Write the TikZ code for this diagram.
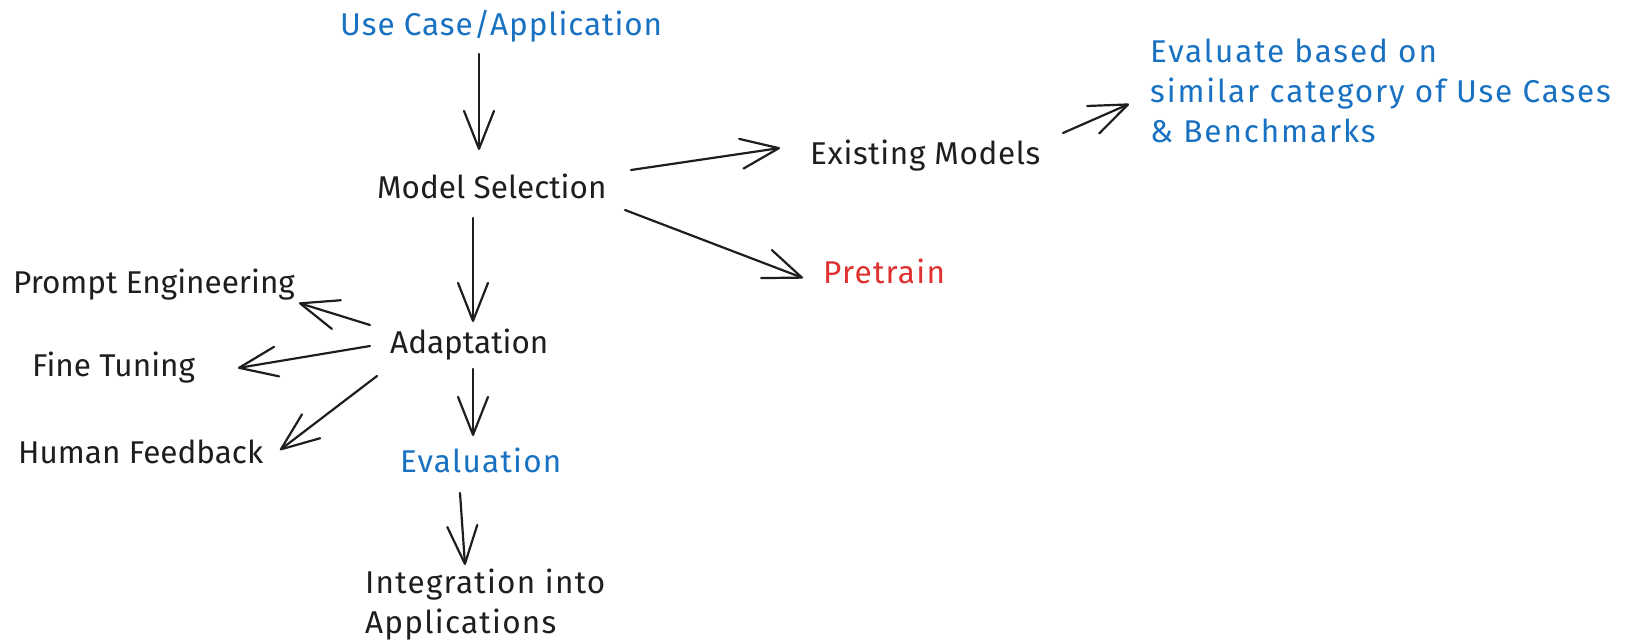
\documentclass[tikz,border=0pt]{standalone}
\usepackage{fontspec}
\setmainfont{Fira Sans}
\usetikzlibrary{arrows.meta}
\definecolor{ink}{HTML}{1E1E1E}
\definecolor{skyblue}{HTML}{1971C2}
\definecolor{alertred}{HTML}{E03131}
\begin{document}
\begin{tikzpicture}[x=1pt,y=-1pt,
  lbl/.style={inner sep=0pt, anchor=base west, text=ink,
    font=\fontsize{31.5}{40}\selectfont, align=left},
  spaced/.style={font=\fontsize{31.5}{40}\selectfont\addfontfeature{LetterSpace=#1}},
  conn/.style={draw=ink, line width=2.2pt, line cap=round, line join=round,
    -{Straight Barb[length=38pt,width=30pt,round]}}]
\useasboundingbox (0,0) rectangle (1635,643);

% labels (multi-line labels are anchored on the baseline of their last line)
\node[lbl, spaced=3, text=skyblue] (uc)  at (340,35)  {Use Case/Application};
\node[lbl] (ms)  at (377,198) {Model Selection};
\node[lbl, spaced=2] (em)  at (810,164) {Existing Models};
\node[lbl, spaced=6, text=skyblue] (ev) at (1150,142)
  {Evaluate based on\\similar category of Use Cases\\\& Benchmarks};
\node[lbl, spaced=4, text=alertred] (pt) at (823,283) {Pretrain};
\node[lbl] (pe)  at (13,293)  {Prompt Engineering};
\node[lbl] (ad)  at (390,353) {Adaptation};
\node[lbl] (ft)  at (32,376)  {Fine Tuning};
\node[lbl] (hf)  at (18,463)  {Human Feedback};
\node[lbl, spaced=4, text=skyblue] (evl) at (400,472) {Evaluation};
\node[lbl, spaced=4] (int) at (365,633) {Integration into\\Applications};

% connectors
\draw[conn] ([shift={(139,19)}]uc.base west)  -- ([shift={(102,-48)}]ms.base west);
\draw[conn] ([shift={(254,-28)}]ms.base west) -- ([shift={(-30,-16)}]em.base west);
\draw[conn] ([shift={(253,-31)}]em.base west) -- ([shift={(-21,-38)}]ev.base west);
\draw[conn] ([shift={(248,12)}]ms.base west)  -- ([shift={(-20,-5)}]pt.base west);
\draw[conn] ([shift={(96,20)}]ms.base west)   -- ([shift={(83,-31)}]ad.base west);
\draw[conn] ([shift={(-20,-28)}]ad.base west) -- ([shift={(286,10)}]pe.base west);
\draw[conn] ([shift={(-20,-7)}]ad.base west)  -- ([shift={(206,-8)}]ft.base west);
\draw[conn] ([shift={(-13,23)}]ad.base west)  -- ([shift={(262,-13)}]hf.base west);
\draw[conn] ([shift={(83,16)}]ad.base west)   -- ([shift={(73,-36)}]evl.base west);
\draw[conn] ([shift={(60,21)}]evl.base west)  -- ([shift={(100,-68)}]int.base west);
\end{tikzpicture}
\end{document}
